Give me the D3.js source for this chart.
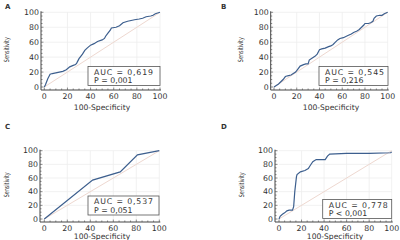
<!DOCTYPE html>
<html><head><meta charset="utf-8">
<script src="https://cdn.jsdelivr.net/npm/d3@7"></script>
<style>body{margin:0;background:#fff}svg{display:block}text{font-family:"DejaVu Sans",Verdana,sans-serif;fill:#333}</style>
</head><body><svg id="c" width="400" height="240"></svg>
<script>
const panelLabels = ["A","B","C","D"];
const aucText = ["AUC = 0,619","AUC = 0,545","AUC = 0,537","AUC = 0,778"];
const pText = ["P = 0,001","P = 0,216","P = 0,051","P < 0,001"];
const xTicks = [0,20,40,60,80,100];
const yTicks = [0,20,40,60,80,100];
const aSpec = [0,1,2,3,4,5,7,10,13,16,19,22,25,27,28,30,32,33,35,37,40,43,46,50,52,53,55,57,58,62,65,68,72,75,78,82,85,88,92,94,96,98,100];
const aSens = [0,3,7,11,14,17,18,19,20,21,23,27,29,30,32,38,42,44,49,52,56,58,61,63,65,68,72,76,79,80,82,86,88,89,90,91,92,94,95,96,98,99,100];
const bSpec = [0,2,4,6,8,10,12,15,17,19,21,23,26,28,30,31,33,36,38,40,42,45,48,50,52,54,56,58,61,65,68,70,73,75,77,79,80,83,85,87,88,90,93,95,97,100];
const bSens = [0,2,4,7,10,14,15,16,18,20,24,28,30,31,31,36,38,41,44,50,51,52,54,55,57,60,63,65,66,69,71,73,75,77,80,83,85,85,86,88,92,95,96,96,98,100];
const cSpec = [0,42,66,81,100];
const cSens = [0,57,69,94,100];
const dSpec = [0,1,3,5,7,9,12,13,14,15.5,16,19,23,26,28,30,33,41,43,45,60,80,99,100];
const dSens = [0,4,7,9,12,13,13,18,40,62,65,69,71,74,79,84,87,87,92,95,96,96,97,98];

const data = [[aSpec,aSens],[bSpec,bSens],[cSpec,cSens],[dSpec,dSens]];
// layout (pixel positions)
const layout = [
  {x0:44.3,x1:160,y0:87,y1:12.3,ax:41,ay:90,lx:5,ly:8.5,sx:6,tx:102,ty:110,box:[88,66.5,72,19]},
  {x0:274,x1:387.7,y0:87,y1:12.3,ax:270.7,ay:90,lx:221,ly:8.5,sx:240,tx:331,ty:110,box:[319,66.5,69,19]},
  {x0:44.3,x1:159.3,y0:219,y1:150.7,ax:40,ay:222,lx:5,ly:129,sx:6,tx:102,ty:238.6,box:[88,196,71,19]},
  {x0:279,x1:391.7,y0:219,y1:150.7,ax:275,ay:222,lx:221,ly:129,sx:241,tx:335,ty:238.6,box:[322.7,199.5,69,19]}
];
const svg = d3.select("#c");
layout.forEach((L,i)=>{
  const x = d3.scaleLinear().domain([0,100]).range([L.x0,L.x1]);
  const y = d3.scaleLinear().domain([0,100]).range([L.y0,L.y1]);
  const g = svg.append("g");
  // grid
  g.selectAll(".gx").data(xTicks.slice(1)).enter().append("line")
    .attr("x1",d=>x(d)).attr("x2",d=>x(d)).attr("y1",y(0)).attr("y2",y(100))
    .attr("stroke","#ededed").attr("stroke-width",0.8);
  g.selectAll(".gy").data(yTicks.slice(1)).enter().append("line")
    .attr("y1",d=>y(d)).attr("y2",d=>y(d)).attr("x1",x(0)).attr("x2",x(100))
    .attr("stroke","#ededed").attr("stroke-width",0.8);
  // diagonal
  g.append("line").attr("x1",x(0)).attr("y1",y(0)).attr("x2",x(100)).attr("y2",y(100))
    .attr("stroke","#eed8d0").attr("stroke-width",1);
  // axes
  g.append("line").attr("x1",L.ax).attr("x2",L.ax).attr("y1",y(100)-1).attr("y2",L.ay)
    .attr("stroke","#444").attr("stroke-width",1);
  g.append("line").attr("x1",L.ax).attr("x2",x(100)+1).attr("y1",L.ay).attr("y2",L.ay)
    .attr("stroke","#444").attr("stroke-width",1);
  const minor = d3.range(0,101,5);
  g.selectAll(".my").data(minor).enter().append("line")
    .attr("x1",L.ax).attr("x2",d=>L.ax+(d%20===0?2.5:1.5)).attr("y1",d=>y(d)).attr("y2",d=>y(d))
    .attr("stroke","#555").attr("stroke-width",0.7);
  g.selectAll(".mx").data(minor).enter().append("line")
    .attr("y1",L.ay).attr("y2",d=>L.ay-(d%20===0?2.5:1.5)).attr("x1",d=>x(d)).attr("x2",d=>x(d))
    .attr("stroke","#555").attr("stroke-width",0.7);
  g.selectAll(".ty").data(yTicks).enter().append("text")
    .attr("x",L.ax-2).attr("y",d=>y(d)).attr("dy","0.35em").attr("text-anchor","end")
    .attr("font-size",7.8).text(d=>d);
  g.selectAll(".tx").data(xTicks).enter().append("text")
    .attr("x",d=>x(d)).attr("y",L.ay+6).attr("dy","0.35em").attr("text-anchor","middle")
    .attr("font-size",7.8).text(d=>d);
  // titles
  g.append("text").attr("x",L.tx).attr("y",L.ty).attr("text-anchor","middle")
    .attr("font-size",7.6).text("100-Specificity");
  g.append("text").attr("transform",`translate(${L.sx+2.5},${(L.y0+L.y1)/2}) rotate(-90)`)
    .attr("text-anchor","middle").attr("font-size",7)
    .attr("textLength",25).attr("lengthAdjust","spacingAndGlyphs").text("Sensitivity");
  g.append("text").attr("x",L.lx).attr("y",L.ly).attr("font-size",7).attr("font-weight","bold")
    .text(panelLabels[i]);
  // curve
  const pts = data[i][0].map((v,k)=>[v,data[i][1][k]]);
  g.append("path").datum(pts)
    .attr("d",d3.line().x(d=>x(d[0])).y(d=>y(d[1])))
    .attr("fill","none").attr("stroke","#3d5f8e").attr("stroke-width",1.2);
  // legend box
  const b = L.box;
  g.append("rect").attr("x",b[0]).attr("y",b[1]).attr("width",b[2]).attr("height",b[3])
    .attr("fill","#fff").attr("stroke","#555").attr("stroke-width",0.8);
  g.append("text").attr("x",b[0]+6).attr("y",b[1]+5.4).attr("dy","0.35em")
    .attr("font-size",7.8).attr("textLength",59).attr("lengthAdjust","spacing").text(aucText[i]);
  g.append("text").attr("x",b[0]+6).attr("y",b[1]+14).attr("dy","0.35em")
    .attr("font-size",7.8).text(pText[i]);
});
</script></body></html>
